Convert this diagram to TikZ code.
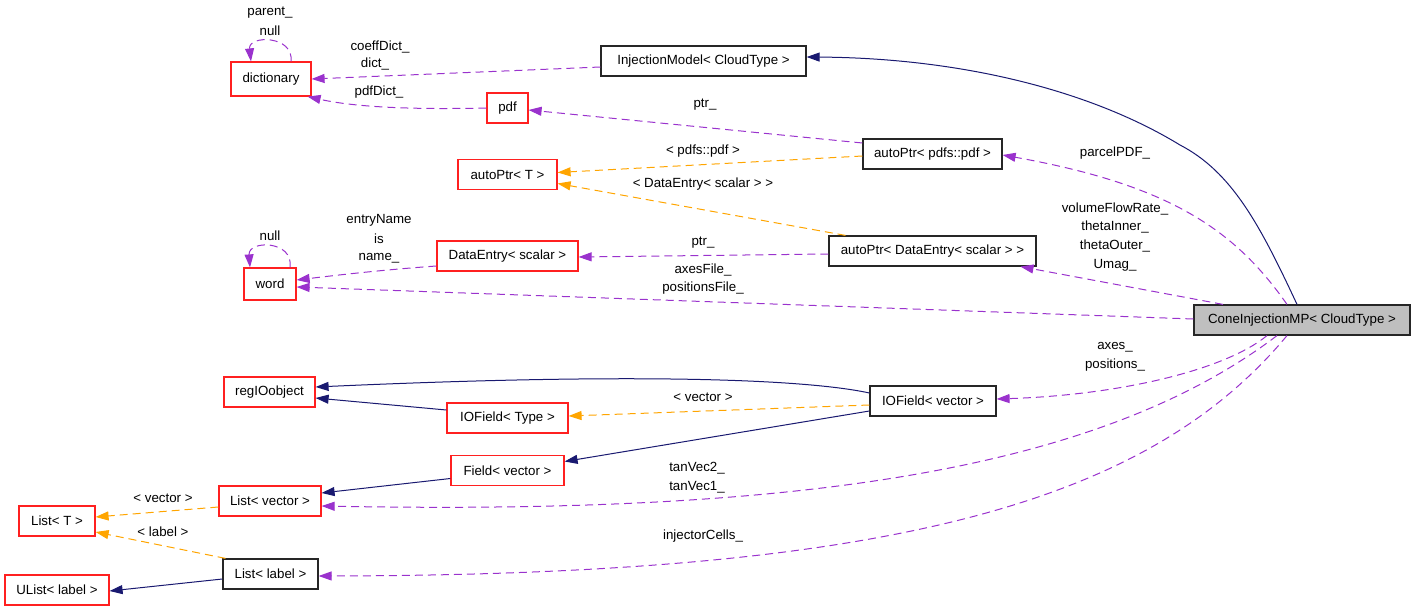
\documentclass[tikz,border=0pt]{standalone}
\usepackage{fontspec}
\setmainfont{Liberation Sans}
\usetikzlibrary{arrows.meta}
\definecolor{navy}{HTML}{191970}
\definecolor{purp}{HTML}{9A32CD}
\definecolor{orng}{HTML}{FFA500}
\definecolor{boxred}{HTML}{FF2020}
\definecolor{gfill}{HTML}{BFBFBF}
\begin{document}
\begin{tikzpicture}[x=1pt,y=-1pt,
  font=\fontsize{13.3}{15}\selectfont,
  box/.style={draw, inner sep=0pt, minimum height=30pt, line width=1.2pt},
  rbox/.style={box, draw=boxred},
  kbox/.style={box, draw=black!85},
  tip/.style={-{Triangle[length=13pt,width=9pt]}},
  inh/.style={draw=navy, fill=none, line width=1pt, tip, navy},
  use/.style={purp, line width=1pt, dash pattern=on 8pt off 5pt, tip},
  tmpl/.style={orng, line width=1pt, dash pattern=on 8pt off 5pt, tip},
  lbl/.style={inner sep=0pt}]
\useasboundingbox (0,0) rectangle (1416,615);

% nodes
\node[kbox, fill=gfill, minimum width=216pt] (cone) at (1302,320) {ConeInjectionMP< CloudType >};
\node[kbox, minimum width=205pt] (injm) at (703.5,61) {InjectionModel< CloudType >};
\node[rbox, minimum width=80pt, minimum height=34pt] (dict) at (271,79) {dictionary};
\node[rbox, minimum width=41pt] (pdf) at (507.5,108) {pdf};
\node[rbox, minimum width=99pt] (apT) at (507.5,174.5) {autoPtr< T >};
\node[kbox, minimum width=139pt] (app) at (932.5,154) {autoPtr< pdfs::pdf >};
\node[rbox, minimum width=141pt] (de) at (507.5,256) {DataEntry< scalar >};
\node[kbox, minimum width=207pt] (apd) at (932.5,251) {autoPtr< DataEntry< scalar > >};
\node[rbox, minimum width=52pt, minimum height=32pt] (word) at (270,284) {word};
\node[rbox, minimum width=91pt] (reg) at (269.5,392) {regIOobject};
\node[rbox, minimum width=121pt] (iot) at (507.5,418) {IOField< Type >};
\node[kbox, minimum width=126pt] (iov) at (933,401) {IOField< vector >};
\node[rbox, minimum width=113pt] (fv) at (507.5,470.5) {Field< vector >};
\node[rbox, minimum width=102pt] (lv) at (270,501) {List< vector >};
\node[rbox, minimum width=76pt] (lT) at (57,521) {List< T >};
\node[kbox, minimum width=95pt] (ll) at (270.5,574) {List< label >};
\node[rbox, minimum width=104pt] (ul) at (57,590) {UList< label >};

% connectors
\draw[inh] ([xshift=-5pt]cone.north) .. controls (1260,225) and (1232,172) .. (1180,145)
  .. controls (1090,90) and (960,58) .. ([yshift=4pt]injm.east);
\draw[use] ([yshift=-6pt]injm.west) -- (dict.east);
\draw[use] ([xshift=20pt]dict.north) .. controls (294,35) and (248,35) .. ([xshift=-20pt]dict.north);
\draw[use] (pdf.west) .. controls (400,110) and (350,106) .. ([xshift=-4pt]dict.south east);
\draw[use] ([yshift=11pt]app.west) -- ([yshift=-2pt]pdf.east);
\draw[use] ([xshift=-15pt]cone.north) .. controls (1235,230) and (1170,185) .. ([yshift=-1pt]app.east);
\draw[tmpl] ([yshift=-2pt]app.west) -- ([yshift=2pt]apT.east);
\draw[tmpl] ([xshift=-87pt]apd.north) -- ([yshift=-9pt]apT.east);
\draw[use] ([yshift=-3pt]apd.west) -- ([yshift=-1pt]de.east);
\draw[use] ([xshift=-79pt]cone.north) -- ([xshift=88pt]apd.south);
\draw[use] ([yshift=-10pt]de.west) .. controls (380,270) and (330,276) .. ([yshift=4pt]word.east);
\draw[use] ([xshift=20pt]word.north) .. controls (294,240) and (248,240) .. ([xshift=-20pt]word.north);
\draw[use] ([yshift=1pt]cone.west) -- ([yshift=-3pt]word.east);
\draw[inh] ([yshift=8pt]iov.west) .. controls (810,380) and (650,372) .. ([yshift=5pt]reg.east);
\draw[inh] ([yshift=8pt]iot.west) -- ([yshift=-6pt]reg.east);
\draw[tmpl] ([yshift=-4pt]iov.west) -- ([yshift=2pt]iot.east);
\draw[inh] ([yshift=-10pt]iov.west) -- ([yshift=9pt]fv.east);
\draw[use] ([xshift=-35pt]cone.south) .. controls (1225,370) and (1120,395) .. ([yshift=2pt]iov.east);
\draw[inh] ([yshift=-8pt]fv.west) -- ([yshift=8pt]lv.east);
\draw[use] ([xshift=-25pt]cone.south) .. controls (1100,470) and (800,515) .. ([yshift=-5pt]lv.east);
\draw[tmpl] ([yshift=-6pt]lv.west) -- ([yshift=4pt]lT.east);
\draw[tmpl] ([xshift=-45pt]ll.north) -- ([yshift=-11pt]lT.east);
\draw[inh] ([yshift=-5pt]ll.west) -- ([yshift=-1pt]ul.east);
\draw[use] ([xshift=-15pt]cone.south) .. controls (1150,500) and (900,575) .. ([yshift=-2pt]ll.east);

% labels
\node[lbl] (l1) at (270,13) {parent\_};
\node[lbl] (l2) at (270,31) {null};
\node[lbl] (l3) at (380,47) {coeffDict\_};
\node[lbl] (l4) at (375,64) {dict\_};
\node[lbl] (l5) at (379,92) {pdfDict\_};
\node[lbl] (l6) at (705,105) {ptr\_};
\node[lbl] (l7) at (703,151) {< pdfs::pdf >};
\node[lbl] (l8) at (1115,153) {parcelPDF\_};
\node[lbl] (l9) at (703,184) {< DataEntry< scalar > >};
\node[lbl] (l10) at (1115,209) {volumeFlowRate\_};
\node[lbl] (l11) at (1115,227) {thetaInner\_};
\node[lbl] (l12) at (1115,246) {thetaOuter\_};
\node[lbl] (l13) at (1115,265) {Umag\_};
\node[lbl] (l14) at (379,220) {entryName};
\node[lbl] (l15) at (379,239) {is};
\node[lbl] (l16) at (379,258) {name\_};
\node[lbl] (l17) at (270,236) {null};
\node[lbl] (l18) at (703,243) {ptr\_};
\node[lbl] (l19) at (703,270) {axesFile\_};
\node[lbl] (l20) at (703,288) {positionsFile\_};
\node[lbl] (l21) at (1115,347) {axes\_};
\node[lbl] (l22) at (1115,365) {positions\_};
\node[lbl] (l23) at (703,397) {< vector >};
\node[lbl] (l24) at (697,468) {tanVec2\_};
\node[lbl] (l25) at (697,487) {tanVec1\_};
\node[lbl] (l26) at (163,498) {< vector >};
\node[lbl] (l27) at (163,532) {< label >};
\node[lbl] (l28) at (703,536) {injectorCells\_};
\end{tikzpicture}
\end{document}
